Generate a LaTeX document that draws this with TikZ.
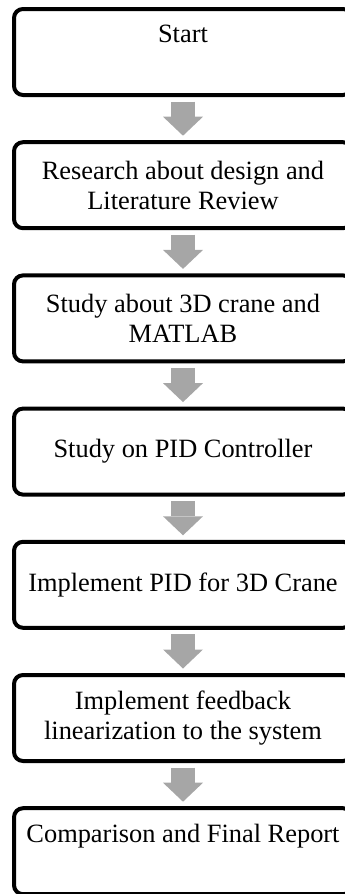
\documentclass[tikz,border=0pt]{standalone}
\usepackage{fontspec}
\setmainfont{Liberation Serif}
\usetikzlibrary{arrows.meta}
\definecolor{arrowgray}{RGB}{166,166,166}

\begin{document}
\begin{tikzpicture}[x=1pt,y=-1pt,
    stepbox/.style={draw,line width=4pt,rounded corners=9pt,minimum width=338pt,minimum height=86pt,inner sep=2pt,align=center,font=\fontsize{26.4}{30}\selectfont},
    toptext/.style={text depth=36pt},
    flow/.style={draw=arrowgray,line width=24pt,-{Triangle[width=40pt,length=19pt,line width=0pt]},shorten <=4.5pt,shorten >=4.5pt}]
    \useasboundingbox (0,0) rectangle (345,894);
    \clip (0,0) rectangle (345,894);
    \node[stepbox,toptext] (start) at (183,52) {Start};
    \node[stepbox] (research) at (183,185.2) {Research about design and\\Literature Review};
    \node[stepbox] (study) at (183,318.4) {Study about 3D crane and\\MATLAB};
    \node[stepbox] (pid) at (183,451.6) {Study on PID Controller};
    \node[stepbox] (implpid) at (183,584.8) {Implement PID for 3D Crane};
    \node[stepbox] (feedback) at (183,718) {Implement feedback\\linearization to the system};
    \node[stepbox,toptext] (report) at (183,851.2) {Comparison and Final Report};
    \draw[flow] (start) -- (research);
    \draw[flow] (research) -- (study);
    \draw[flow] (study) -- (pid);
    \draw[flow] (pid) -- (implpid);
    \draw[flow] (implpid) -- (feedback);
    \draw[flow] (feedback) -- (report);
\end{tikzpicture}
\end{document}
